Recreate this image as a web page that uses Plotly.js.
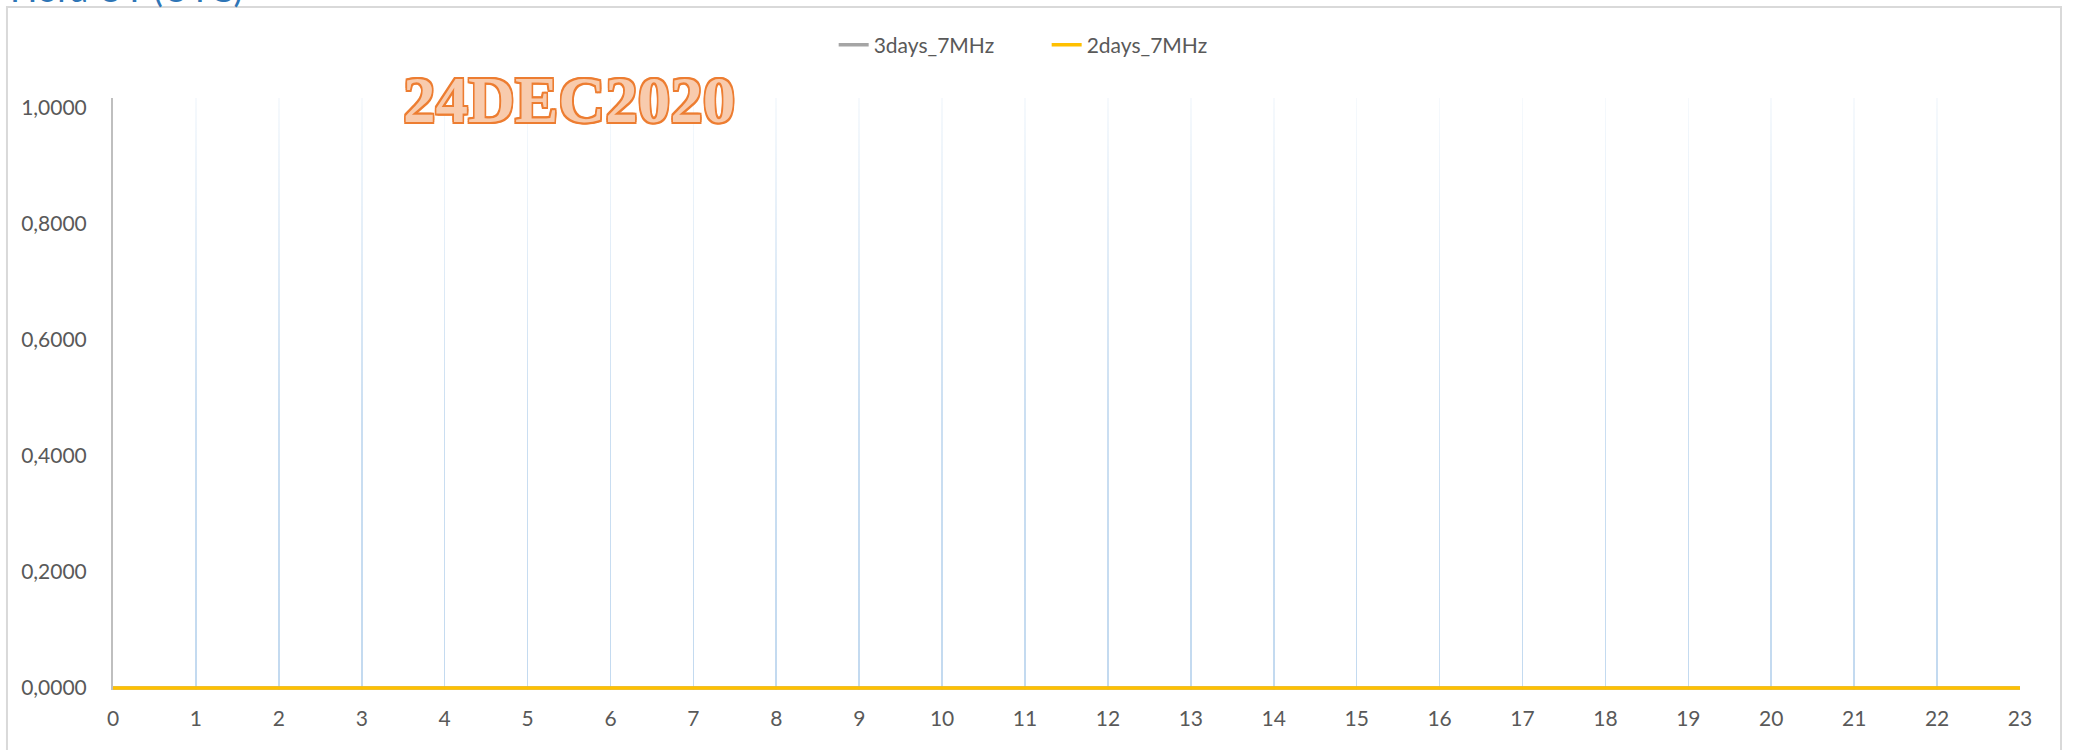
<!DOCTYPE html>
<html>
<head>
<meta charset="utf-8">
<script src="https://cdn.plot.ly/plotly-3.0.1.min.js"></script>
<style>
  html, body { margin: 0; padding: 0; background: #ffffff; }
  #chart { width: 2074px; height: 750px; }
</style>
</head>
<body>
<div id="chart"></div>
<script>
// ---- data ----
const hours = [0,1,2,3,4,5,6,7,8,9,10,11,12,13,14,15,16,17,18,19,20,21,22,23];
const series3days = [0,0,0,0,0,0,0,0,0,0,0,0,0,0,0,0,0,0,0,0,0,0,0,0];
const series2days = [0,0,0,0,0,0,0,0,0,0,0,0,0,0,0,0,0,0,0,0,0,0,0,0];
const seriesNames = ['3days_7MHz', '2days_7MHz'];
const yTickVals = [0, 0.2, 0.4, 0.6, 0.8, 1.0];
const xTickVals = hours;
const stampText = '24DEC2020';
const headText = 'Hora UT (UTC)';

const outline = '#ed7d31';
const s = '1.6px';
const shadow = [
  `-${s} -${s} 0 ${outline}`, `${s} -${s} 0 ${outline}`,
  `-${s} ${s} 0 ${outline}`, `${s} ${s} 0 ${outline}`,
  `0 ${s} 0 ${outline}`, `0 -${s} 0 ${outline}`,
  `${s} 0 0 ${outline}`, `-${s} 0 0 ${outline}`
].join(', ');

const traces = [
  {x: hours, y: series3days, name: seriesNames[0], type: 'scatter', mode: 'lines',
   line: {color: '#a5a5a5', width: 3.5}},
  {x: hours, y: series2days, name: seriesNames[1], type: 'scatter', mode: 'lines',
   line: {color: '#ffc000', width: 3.5}}
];

const fadeSvg = '<svg xmlns="http://www.w3.org/2000/svg" width="100" height="100" preserveAspectRatio="none">' +
  '<defs><linearGradient id="g" x1="0" y1="0" x2="0" y2="1">' +
  '<stop offset="0" stop-color="#fff" stop-opacity="0.85"/>' +
  '<stop offset="0.55" stop-color="#fff" stop-opacity="0.12"/>' +
  '<stop offset="1" stop-color="#fff" stop-opacity="0"/>' +
  '</linearGradient></defs><rect width="100" height="100" fill="url(#g)"/></svg>';

const layout = {
  width: 2074, height: 750,
  margin: {l: 113, r: 54, t: 98, b: 60},
  paper_bgcolor: '#ffffff', plot_bgcolor: '#ffffff',
  separators: ', ',
  font: {family: 'Lato, "Open Sans", sans-serif', size: 21, color: '#595959'},
  showlegend: true,
  legend: {orientation: 'h', x: 0.4896, xanchor: 'center', y: 1.0895, yanchor: 'middle',
           entrywidth: 168, entrywidthmode: 'pixels',
           font: {size: 21, color: '#595959'}, bgcolor: 'rgba(0,0,0,0)'},
  xaxis: {range: [0, 23], tickvals: xTickVals, showgrid: true, gridcolor: '#c3daf0', gridwidth: 1.6,
          zeroline: false, showline: false, ticks: '', ticklabelstandoff: 14,
          tickfont: {size: 21, color: '#595959'}, fixedrange: true},
  yaxis: {range: [-0.0035, 1.017], tickvals: yTickVals, tickformat: '.4f', showgrid: false,
          zeroline: false, showline: true, linecolor: '#bfbfbf', linewidth: 2,
          ticks: '', ticklabelstandoff: 20, tickfont: {size: 21, color: '#595959'}, fixedrange: true},
  shapes: [
    {type: 'rect', xref: 'paper', yref: 'paper', x0: -0.0556, x1: 1.0215, y0: -0.12, y1: 1.1537,
     line: {color: '#d9d9d9', width: 2}, fillcolor: 'rgba(0,0,0,0)', layer: 'below'}
  ],
  images: [
    {source: 'data:image/svg+xml;utf8,' + encodeURIComponent(fadeSvg), xref: 'paper', yref: 'paper',
     x: 0.003, y: 1, sizex: 1.0, sizey: 1.0, sizing: 'stretch', xanchor: 'left', yanchor: 'top',
     layer: 'above', opacity: 1}
  ],
  annotations: [
    {text: headText, xref: 'paper', yref: 'paper', x: -0.0550, y: 1.1453, xanchor: 'left', yanchor: 'bottom',
     showarrow: false, font: {family: 'Lato, sans-serif', size: 36, color: '#2e75b6'}},
    {text: stampText, xref: 'paper', yref: 'paper', x: 0.2391, y: 0.997, xanchor: 'center', yanchor: 'middle',
     showarrow: false,
     font: {family: '"Liberation Serif", "DejaVu Serif", serif', size: 65, weight: 700, color: '#f8cbad', shadow: shadow}}
  ]
};

Plotly.newPlot('chart', traces, layout, {displayModeBar: false, staticPlot: true});
</script>
</body>
</html>
